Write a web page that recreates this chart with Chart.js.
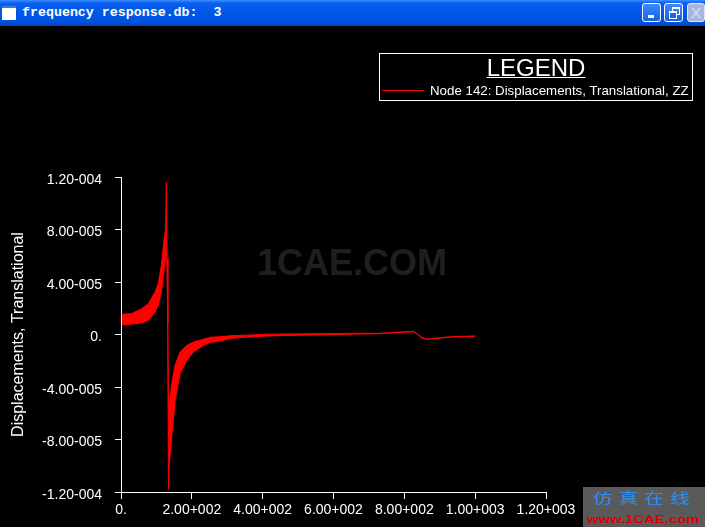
<!DOCTYPE html>
<html>
<head>
<meta charset="utf-8">
<script src="https://cdn.jsdelivr.net/npm/chart.js@4.4.1/dist/chart.umd.min.js"></script>
<style>
  body { margin: 0; width: 705px; height: 527px; background: #000; overflow: hidden; position: relative;
         font-family: Arial, "Liberation Sans", sans-serif; }
  #titlebar { position: absolute; left: 0; top: 0; width: 705px; height: 26px;
              background: linear-gradient(#3d8fff 0%, #0a5fee 12%, #0056e6 50%, #0052de 85%, #0041b8 100%); }
  #titlebar .icon { position: absolute; left: 2px; top: 6px; width: 14px; height: 14px; background: #fff;
                    border-top: 2px solid #3b7bd6; box-sizing: border-box; }
  #titlebar .text { position: absolute; left: 22px; top: 5px; color: #fff; font: bold 13.3px "Liberation Mono", monospace;
                    white-space: pre; line-height: 16px; }
  .btn { position: absolute; top: 3px; width: 19px; height: 19px; border: 1px solid #fff; border-radius: 3px;
         box-sizing: border-box; background: linear-gradient(#3b8bff, #1a5fe0); }
  #b1 { left: 642px; }
  #b1::after { content: ""; position: absolute; left: 5px; top: 11px; width: 6px; height: 3px; background: #fff; }
  #b2 { left: 664px; }
  #b2::before { content: ""; position: absolute; left: 7px; top: 3px; width: 6px; height: 5px; border: 1px solid #fff; border-top-width: 2px; }
  #b2::after { content: ""; position: absolute; left: 4px; top: 7px; width: 6px; height: 5px; border: 1px solid #fff; border-top-width: 2px; background: #1f66e6; }
  #b3 { left: 687px; width: 18px; background: #a8b8dc; border-color: #dfe6f5; color: #d8e0f0;
        font: 15px Arial, sans-serif; text-align: center; line-height: 17px; }
  #legend { position: absolute; left: 379px; top: 53px; width: 314px; height: 48px; border: 1px solid #fff; box-sizing: border-box; }
  #legtitle { position: absolute; left: 379px; width: 314px; top: 56px; text-align: center; color: #fff;
              font-size: 24px; line-height: 24px; text-decoration: underline; text-decoration-thickness: 1px; }
  #legline { position: absolute; left: 382px; top: 90px; width: 42px; height: 1px; background: #ff0000; }
  #legtext { position: absolute; left: 430px; top: 84px; color: #fff; font-size: 13.3px; line-height: 13px; white-space: nowrap; }
  #wm { position: absolute; left: 257px; top: 245px; color: #1f1f1f; font: bold 36px Arial, "Liberation Sans", sans-serif; line-height: 36px; }
  #logo { position: absolute; left: 583px; top: 487px; width: 122px; height: 40px; background: #5a5a5a; overflow: hidden; }
  #logo .cn { position: absolute; left: 10px; top: 2px; color: #2a8ef2; font: 14px "Noto Sans CJK SC", sans-serif;
              letter-spacing: 4.4px; transform: scaleX(1.4); transform-origin: left top; white-space: nowrap; line-height: 16px; }
  #logo .en { position: absolute; left: 4px; top: 26px; color: #e00000; font: bold 11px Arial, "Liberation Sans", sans-serif;
              transform: scaleX(1.35); transform-origin: left top; white-space: nowrap; line-height: 12px; }
  #chart { position: absolute; left: 0; top: 0; }
</style>
</head>
<body>
<div id="wm">1CAE.COM</div>
<canvas id="chart" width="705" height="527"></canvas>
<div id="titlebar">
  <div class="icon"></div>
  <div class="text">frequency response.db:  3</div>
  <div class="btn" id="b1"></div>
  <div class="btn" id="b2"></div>
  <div class="btn" id="b3">X</div>
</div>
<div id="legend"></div>
<div id="legtitle">LEGEND</div>
<div id="legline"></div>
<div id="legtext">Node 142: Displacements, Translational, ZZ</div>
<div id="logo"><div class="cn">仿真在线</div><div class="en">www.1CAE.com</div></div>
<script>
// frequency (Hz) and the two edges of the dense red band (displacement)
var freq = [2, 30, 58, 77, 96, 105, 114, 121, 126, 128, 130, 132, 134, 136, 144, 153, 167, 186, 205, 233, 252, 275,
            317, 355, 411, 514, 665, 730, 760, 790, 826, 834, 848, 863, 877, 900, 939, 1000];
var upper = [1.53e-5, 1.60e-5, 1.96e-5, 2.34e-5, 3.23e-5, 3.87e-5, 5.27e-5, 7.05e-5, 8.07e-5, 1.16e-4, 5.8e-5, 0.9e-5,
             -5.8e-5, -5.4e-5, -3.6e-5, -2.3e-5, -1.33e-5, -0.82e-5, -0.57e-5, -0.36e-5, -0.21e-5, -0.18e-5,
             -0.08e-5, -0.05e-5, 0.02e-5, 0.05e-5, 0.09e-5, 0.09e-5, 0.14e-5, 0.19e-5, 0.24e-5, 0.10e-5,
             -0.21e-5, -0.36e-5, -0.30e-5, -0.24e-5, -0.16e-5, -0.11e-5];
var lower = [0.73e-5, 0.79e-5, 0.89e-5, 1.07e-5, 1.70e-5, 2.22e-5, 3.23e-5, 4.76e-5, 5.78e-5, 5.8e-5, 5.8e-5, 0.9e-5,
             -1.18e-4, -1.0e-4, -7.6e-5, -5.0e-5, -2.98e-5, -1.96e-5, -1.33e-5, -0.82e-5, -0.59e-5, -0.51e-5,
             -0.28e-5, -0.21e-5, -0.11e-5, -0.05e-5, 0.03e-5, 0.06e-5, 0.11e-5, 0.16e-5, 0.21e-5, 0.07e-5,
             -0.24e-5, -0.39e-5, -0.33e-5, -0.27e-5, -0.19e-5, -0.14e-5];

var xTickValues = [0, 200, 400, 600, 800, 1000, 1200];
var xTickLabels = ['0.', '2.00+002', '4.00+002', '6.00+002', '8.00+002', '1.00+003', '1.20+003'];
var yTickValues = [-1.2e-4, -8e-5, -4e-5, 0, 4e-5, 8e-5, 1.2e-4];
var yTickLabels = ['-1.20-004', '-8.00-005', '-4.00-005', '0.', '4.00-005', '8.00-005', '1.20-004'];

var fontFamily = 'Arial, "Liberation Sans", sans-serif';

function pts(ys) {
    return freq.map(function (f, i) { return { x: f, y: ys[i] }; });
}

var ctx = document.getElementById('chart');
var myChart = new Chart(ctx, {
    type: 'line',
    data: {
        datasets: [
            {
                label: 'Node 142: Displacements, Translational, ZZ',
                data: pts(upper),
                borderColor: '#ff0000',
                backgroundColor: '#ff0000',
                borderWidth: 1,
                pointRadius: 0,
                tension: 0,
                fill: '+1'
            },
            {
                label: 'lower edge',
                data: pts(lower),
                borderColor: '#ff0000',
                backgroundColor: '#ff0000',
                borderWidth: 1,
                pointRadius: 0,
                tension: 0,
                fill: false
            }
        ]
    },
    options: {
        responsive: false,
        animation: false,
        events: [],
        layout: { padding: { left: 0, top: 177, right: 159, bottom: 0 } },
        plugins: {
            legend: { display: false },
            tooltip: { enabled: false }
        },
        scales: {
            x: {
                type: 'linear',
                min: 0,
                max: 1200,
                afterBuildTicks: function (s) { s.ticks = xTickValues.map(function (v) { return { value: v }; }); },
                afterFit: function (s) { s.height = 35; },
                ticks: {
                    color: '#fff',
                    font: { size: 14, family: fontFamily },
                    padding: 3,
                    maxRotation: 0,
                    autoSkip: false,
                    callback: function (v, i) { return xTickLabels[i]; }
                },
                grid: { drawOnChartArea: false, drawTicks: true, tickLength: 7, color: '#fff' },
                border: { color: '#fff', width: 1 }
            },
            y: {
                type: 'linear',
                min: -1.2e-4,
                max: 1.2e-4,
                afterBuildTicks: function (s) { s.ticks = yTickValues.map(function (v) { return { value: v }; }); },
                afterFit: function (s) { s.width = 121; },
                ticks: {
                    color: '#fff',
                    font: { size: 14, family: fontFamily },
                    padding: 13,
                    labelOffset: 3,
                    autoSkip: false,
                    callback: function (v, i) { return yTickLabels[i]; }
                },
                grid: { drawOnChartArea: false, drawTicks: true, tickLength: 6, color: '#fff' },
                border: { color: '#fff', width: 1 },
                title: {
                    display: true,
                    text: 'Displacements, Translational',
                    color: '#fff',
                    font: { size: 16, family: fontFamily },
                    padding: { top: 9, bottom: 0 }
                }
            }
        }
    }
});
</script>
</body>
</html>
